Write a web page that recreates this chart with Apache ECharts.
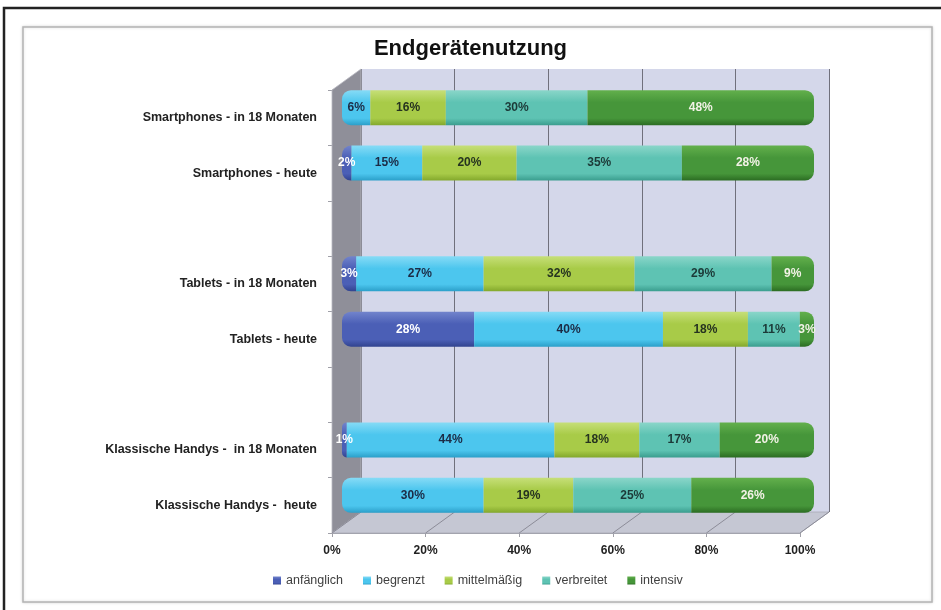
<!DOCTYPE html>
<html>
<head>
<meta charset="utf-8">
<script src="https://cdn.jsdelivr.net/npm/echarts@6/dist/echarts.min.js"></script>
<style>
  html, body { margin: 0; padding: 0; background: #fff; }
  #main { width: 941px; height: 610px; }
</style>
</head>
<body>
<div id="main"></div>
<script>
// categories top -> bottom, two empty rows as spacers
var categories = ['Smartphones - in 18 Monaten', 'Smartphones - heute', '', 'Tablets - in 18 Monaten', 'Tablets - heute', ' ', 'Klassische Handys -  in 18 Monaten', 'Klassische Handys -  heute']
var seriesNames = ['anfänglich', 'begrenzt', 'mittelmäßig', 'verbreitet', 'intensiv']
var anfaenglich = [0, 2, null, 3, 28, null, 1, 0]
var begrenzt = [6, 15, null, 27, 40, null, 44, 30]
var mittelmaessig = [16, 20, null, 32, 18, null, 18, 19]
var verbreitet = [30, 35, null, 29, 11, null, 17, 25]
var intensiv = [48, 28, null, 9, 3, null, 20, 26]
var xTicks = [0, 20, 40, 60, 80, 100]

var allData = [anfaenglich, begrenzt, mittelmaessig, verbreitet, intensiv]
// top, base, bottom shades for the cylinder look
var shades = [
  ['#7284cc', '#4b5fb6', '#31438f'],
  ['#86dbf6', '#4cc6ee', '#2b9fc9'],
  ['#c6df78', '#a8cb48', '#83a82c'],
  ['#8ad6c9', '#5ec3b3', '#3a9d8e'],
  ['#63b04c', '#46963a', '#2b6c22']
]
var labelColors = ['#ffffff', '#1c2b45', '#263320', '#1c3a38', '#f2f2e6']

// layout (3D box faces)
var front = { left: 332, top: 90, width: 468, height: 443 }
var depthX = 29, depthY = -21
var back = { left: front.left + depthX, top: front.top + depthY, width: 468, height: 443 }
var bars = { left: 342, top: 80, width: 472, height: 443 }

var chart = echarts.init(document.getElementById('main'))
var font = 'Liberation Sans, Arial, sans-serif'

function grad (c) {
  return new echarts.graphic.LinearGradient(0, 0, 0, 1, [
    { offset: 0, color: c[0] },
    { offset: 0.35, color: c[1] },
    { offset: 0.8, color: c[1] },
    { offset: 1, color: c[2] }
  ])
}

// find first / last non-zero segment per row for the rounded ends
var firstIdx = [], lastIdx = []
for (var r = 0; r < categories.length; r++) {
  firstIdx.push(-1); lastIdx.push(-1)
  for (var s = 0; s < allData.length; s++) {
    if (allData[s][r]) {
      if (firstIdx[r] < 0) firstIdx[r] = s
      lastIdx[r] = s
    }
  }
}

var series = []
for (var s = 0; s < allData.length; s++) {
  var items = allData[s].map(function (v, r) {
    var rad = [0, 0, 0, 0]
    if (firstIdx[r] === s) { rad[0] = 9; rad[3] = 9 }
    if (lastIdx[r] === s) { rad[1] = 9; rad[2] = 9 }
    return { value: v, itemStyle: { borderRadius: rad } }
  })
  series.push({
    name: seriesNames[s],
    type: 'bar',
    stack: 'all',
    xAxisIndex: 1,
    yAxisIndex: 1,
    barWidth: 35,
    data: items,
    itemStyle: { color: grad(shades[s]) },
    label: {
      show: true,
      position: 'inside',
      color: labelColors[s],
      fontFamily: font,
      fontWeight: 'bold',
      fontSize: 12,
      formatter: function (p) { return p.value ? p.value + '%' : '' }
    },
    emphasis: { disabled: true }
  })
}

// walls, floor and frame
var floorLines = xTicks.map(function (t) {
  var fx = front.left + front.width * t / 100
  return {
    type: 'line', z: 1, silent: true,
    shape: { x1: fx, y1: front.top + front.height, x2: fx + depthX, y2: front.top + front.height + depthY },
    style: { stroke: '#8c8c98', lineWidth: 1 }
  }
})

var graphics = [
  { type: 'rect', z: -10, silent: true, shape: { x: 4, y: 8, width: 960, height: 700 }, style: { fill: 'none', stroke: '#222', lineWidth: 2.5 } },
  { type: 'rect', z: -10, silent: true, shape: { x: 23, y: 27, width: 909, height: 575 }, style: { fill: '#fff', stroke: '#b4b4b4', lineWidth: 1.5, shadowBlur: 3, shadowColor: 'rgba(0,0,0,0.15)' } },
  { type: 'polygon', z: 1, silent: true,
    shape: { points: [[front.left, front.top], [back.left, back.top], [back.left, back.top + back.height], [front.left, front.top + front.height]] },
    style: { fill: '#8f8f99', stroke: '#b8b8c0', lineWidth: 0.8 } },
  { type: 'polygon', z: 1, silent: true,
    shape: { points: [[front.left, front.top + front.height], [back.left, back.top + back.height], [back.left + back.width, back.top + back.height], [front.left + front.width, front.top + front.height]] },
    style: { fill: '#c5c7d3', stroke: '#a8aab6', lineWidth: 0.8 } }
].concat(floorLines)

var option = {
  animation: false,
  title: {
    text: 'Endgerätenutzung',
    left: 'center',
    top: 33,
    textStyle: { fontFamily: font, fontSize: 22, fontWeight: 'bold', color: '#111' }
  },
  legend: {
    data: seriesNames,
    left: 268,
    top: 569,
    itemWidth: 8,
    itemHeight: 8,
    itemGap: 20,
    icon: 'rect',
    textStyle: { fontFamily: font, fontSize: 12.5, color: '#404040' },
    selectedMode: false
  },
  grid: [
    { left: back.left, top: back.top, width: back.width, height: back.height, show: true, backgroundColor: '#d4d7ea', borderWidth: 0 },
    { left: bars.left, top: bars.top, width: bars.width, height: bars.height },
    { left: front.left, top: front.top, width: front.width, height: front.height }
  ],
  xAxis: [
    { gridIndex: 0, type: 'value', min: 0, max: 100, interval: 20,
      axisLabel: { show: false }, axisLine: { show: false }, axisTick: { show: false },
      splitLine: { show: true, lineStyle: { color: '#70707c', width: 1 } } },
    { gridIndex: 1, type: 'value', min: 0, max: 100, show: false },
    { gridIndex: 2, type: 'value', min: 0, max: 100, interval: 20,
      splitLine: { show: false },
      axisLine: { show: true, lineStyle: { color: '#a0a0a8' } },
      axisTick: { show: true, length: 4, lineStyle: { color: '#a0a0a8' } },
      axisLabel: { margin: 12, formatter: '{value}%', fontFamily: font, fontSize: 12, fontWeight: 'bold', color: '#222' } }
  ],
  yAxis: [
    { gridIndex: 0, type: 'category', data: categories, inverse: true, show: false },
    { gridIndex: 1, type: 'category', data: categories, inverse: true, show: false },
    { gridIndex: 2, type: 'category', data: categories, inverse: true,
      axisLine: { show: true, lineStyle: { color: '#a0a0a8' } },
      axisTick: { show: true, length: 4, lineStyle: { color: '#a0a0a8' } },
      splitLine: { show: false },
      axisLabel: { margin: 15, fontFamily: font, fontSize: 12.5, fontWeight: 'bold', color: '#222' } }
  ],
  graphic: graphics,
  series: series
}

chart.setOption(option)
</script>
</body>
</html>
